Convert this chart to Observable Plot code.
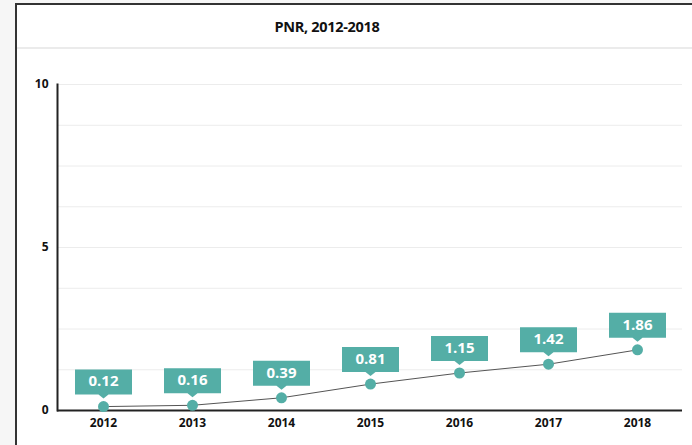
<!DOCTYPE html>
<html>
<head>
<meta charset="utf-8">
<script src="https://cdn.jsdelivr.net/npm/d3@7"></script>
<script src="https://cdn.jsdelivr.net/npm/@observablehq/plot@0.6"></script>
<style>
  html, body { margin: 0; padding: 0; }
  body { width: 692px; height: 445px; overflow: hidden; background: #f6f6f6; font-family: "Open Sans", sans-serif; position: relative; }
  .frame { position: absolute; left: 15px; top: 3px; width: 700px; height: 460px; background: #fff;
           border-left: 2px solid #333; border-top: 2px solid #333; }
  .title { position: absolute; left: 0; top: 0; width: 620px; height: 44px; line-height: 43px; text-align: center;
           font-size: 14.5px; font-weight: 700; color: #111; letter-spacing: -0.3px; }
  .sep { position: absolute; left: 0; top: 42px; width: 100%; height: 2px; background: #ebebeb; }
  #chart { position: absolute; left: 0; top: 44px; }
</style>
</head>
<body>
<div class="frame">
  <div class="title">PNR, 2012-2018</div>
  <div class="sep"></div>
  <div id="chart"></div>
</div>
<script>
const years = ["2012", "2013", "2014", "2015", "2016", "2017", "2018"];
const pnr = [0.12, 0.16, 0.39, 0.81, 1.15, 1.42, 1.86];
const yTickLabels = [0, 5, 10];
const gridValues = [0, 1.25, 2.5, 3.75, 5, 6.25, 7.5, 8.75, 10];

const teal = "#54aea6";
const data = years.map((year, i) => ({year, value: pnr[i]}));

// Callout box with a small pointer, drawn above each point
const callout = {
  draw(context) {
    const w = 28.5, top = -37, bottom = -12, a = 5, tip = -8;
    context.moveTo(-w, top);
    context.lineTo(w, top);
    context.lineTo(w, bottom);
    context.lineTo(a, bottom);
    context.lineTo(0, tip);
    context.lineTo(-a, bottom);
    context.lineTo(-w, bottom);
    context.closePath();
  }
};

const chart = Plot.plot({
  width: 675,
  height: 400,
  marginLeft: 40,
  marginRight: 10,
  marginTop: 35,
  marginBottom: 39,
  style: {fontFamily: "Open Sans, sans-serif", color: "#111", background: "transparent"},
  x: {type: "point", domain: years, padding: 0.5, label: null},
  y: {domain: [0, 10], label: null},
  marks: [
    Plot.ruleY(gridValues, {stroke: "#ececec", strokeWidth: 1}),
    Plot.frame({anchor: "left", stroke: "#222", strokeWidth: 2}),
    Plot.ruleY([0], {stroke: "#222", strokeWidth: 2}),
    Plot.axisY(yTickLabels, {tickSize: 0, tickPadding: 9, fontWeight: 700, fontSize: 12, label: null}),
    Plot.axisX({tickSize: 0, tickPadding: 8, fontWeight: 700, fontSize: 12, label: null}),
    Plot.line(data, {x: "year", y: "value", stroke: "#555", strokeWidth: 1}),
    Plot.dot(data, {x: "year", y: "value", r: 5.5, fill: teal}),
    Plot.dot(data, {x: "year", y: "value", symbol: callout, fill: teal}),
    Plot.text(data, {x: "year", y: "value", text: d => d.value.toFixed(2), dy: -25,
                     fill: "#fff", fontWeight: 700, fontSize: 15})
  ]
});
document.getElementById("chart").appendChild(chart);
</script>
</body>
</html>
